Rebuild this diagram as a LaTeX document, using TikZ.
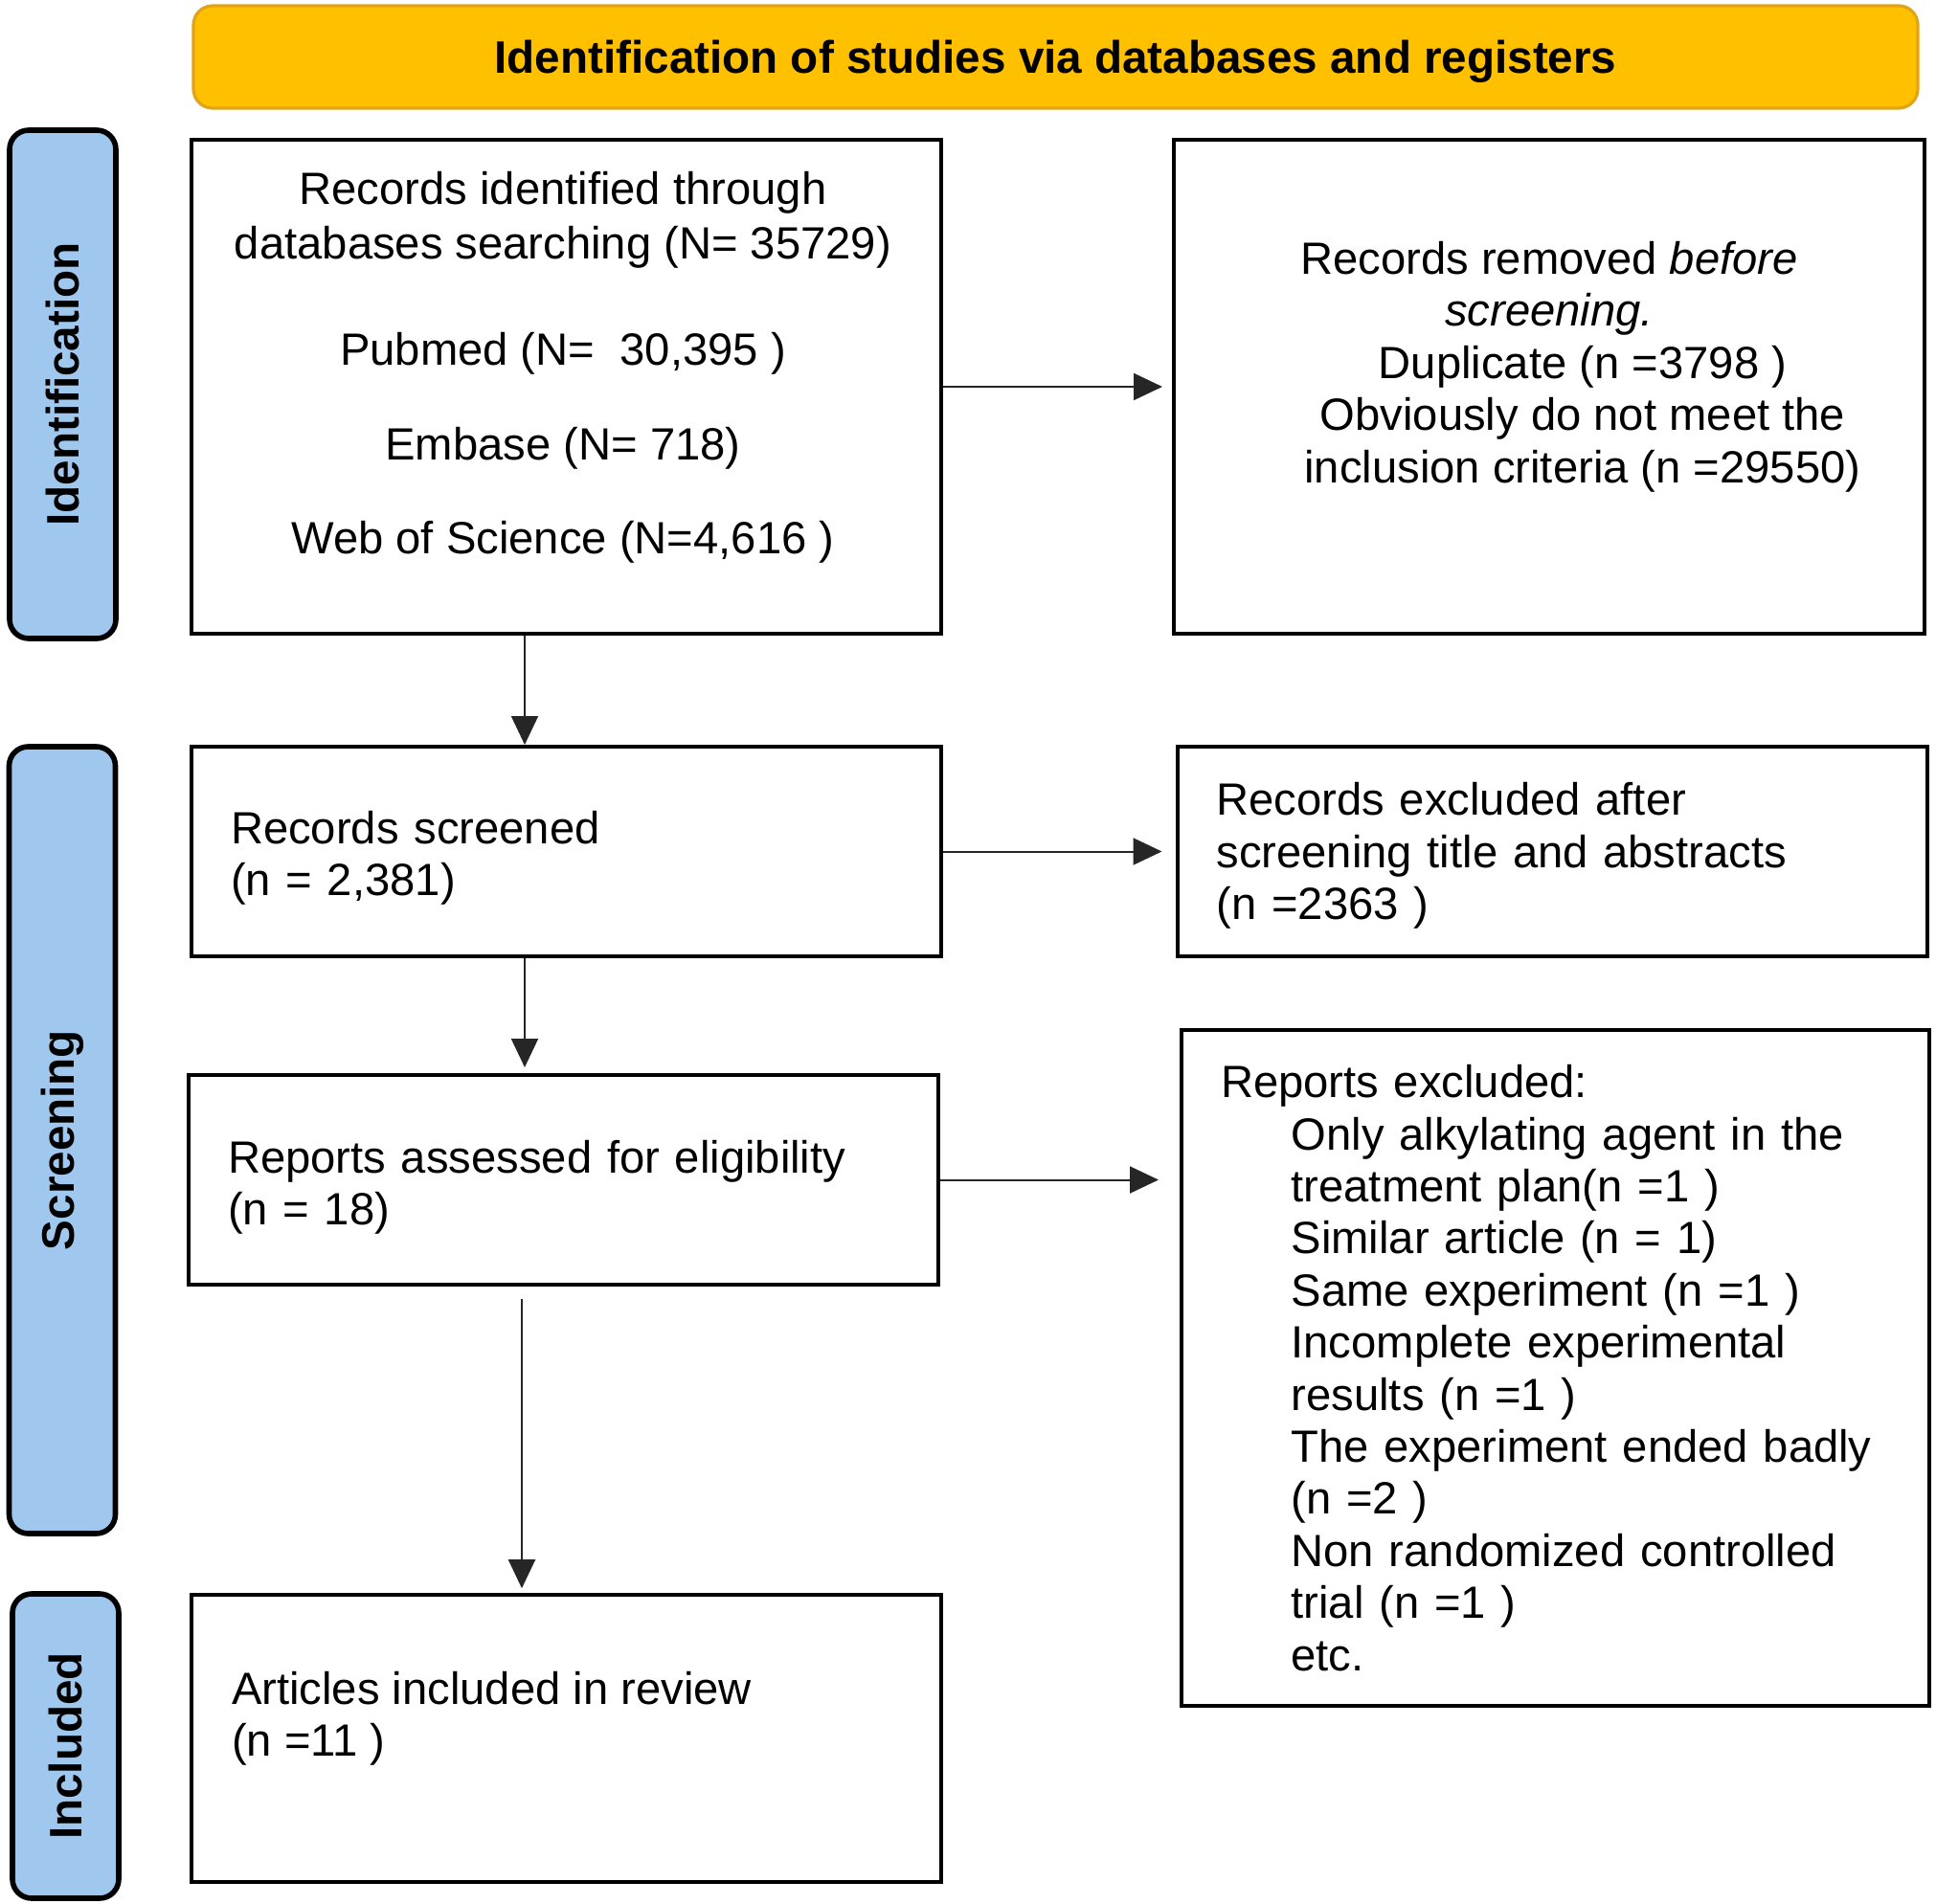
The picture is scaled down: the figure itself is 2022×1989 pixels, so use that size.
\documentclass[tikz,border=0pt]{standalone}
\usepackage{fontspec}
\setmainfont{Liberation Sans}
\usepackage{xcolor}
\usepackage{tikz}
\usetikzlibrary{arrows.meta}
\definecolor{bannergold}{RGB}{255,192,0}
\definecolor{bannerrim}{RGB}{226,164,22}
\definecolor{phaseblue}{RGB}{160,200,238}
\newcommand{\exind}{\hspace*{18.4pt}}
\newcommand{\padtop}[1]{\rule{0pt}{\dimexpr8.7pt+#1\relax}}
\tikzset{every picture/.style={line width=.55pt}}

\begin{document}
\begin{tikzpicture}[x=.25pt,y=-.25pt,>=Latex,
  every node/.style={font=\fontsize{11.8}{13.6}\selectfont,inner sep=0pt},
  banner/.style={draw=bannerrim,fill=bannergold,line width=.8pt,rounded corners=5pt,
                 minimum width=450.25pt,minimum height=26.75pt,text depth=0pt,
                 font=\fontsize{11.9}{13.6}\selectfont\bfseries},
  phase/.style={draw=black,fill=phaseblue,line width=1.4pt,rounded corners=5pt,
                rotate=90,minimum height=27.75pt,
                font=\fontsize{11.9}{13.6}\selectfont\bfseries},
  panel/.style={draw=black,line width=1pt,minimum width=195.75pt},
  lpanel/.style={panel,align=left,inner xsep=10.25pt,text width=175.25pt},
  flow/.style={-{Triangle[length=7.5pt,width=7pt]},black!85,line width=.5pt}]

  \useasboundingbox (0,0) rectangle (2022,1989);

  % Banner and phase bars.
  \node[banner] (title) at (1102.5,59.5)
    {Identification of studies via databases and registers};
  \node[phase,minimum width=132.75pt] (idbar) at (65.5,401.5) {Identification};
  \node[phase,minimum width=205.5pt] (scbar) at (65,1191) {Screening};
  \node[phase,minimum width=79.5pt] (inbar) at (68.5,1824) {Included};

  % Left column.
  \node[panel,minimum height=129pt] (found) at (591.5,404) {};
  \node[align=center] (foundtxt) at (588,384)
    {Records identified through\\[.6pt]
     databases searching (N= 35729)\\[14.1pt]
     Pubmed (N=~~30,395~)\\[11.1pt]
     Embase (N= 718)\\[11.1pt]
     Web of Science (N=4,616~)};
  \node[lpanel,minimum height=54.75pt] (screened) at (591.5,889.5)
    {\padtop{3.2pt}Records screened\\(n = 2,381)};
  \node[lpanel,minimum height=54.75pt] (assessed) at (588.5,1232.5)
    {\padtop{3.8pt}Reports assessed for eligibility\\(n = 18)};
  \node[panel,minimum height=75pt] (included) at (591.5,1816) {};
  \node[align=left,anchor=west] (includedtxt) at (241,1795)
    {Articles included in review\\(n =11~)};

  % Right column.
  \node[panel,minimum width=196pt,minimum height=129pt] (removed) at (1618,404) {};
  \node[align=center] (removedtxt) at (1618,383)
    {Records removed \textit{before}\\
     \textit{screening.}\hspace*{19pt}\\
     \hspace*{17.5pt}Duplicate (n =3798~)\\
     \hspace*{17.5pt}Obviously do not meet the\\
     \hspace*{17.5pt}inclusion criteria (n =29550)};
  \node[lpanel,minimum width=195.5pt,minimum height=54.75pt] (excl) at (1621,889.5)
    {\padtop{2pt}Records excluded after\\screening title and abstracts\\(n =2363~)};
  \node[lpanel,minimum width=195.25pt,text width=174.75pt,minimum height=176.5pt]
    (repexcl) at (1624.5,1429)
    {Reports excluded:\\
     \exind Only alkylating agent in the\\
     \exind treatment plan(n =1~)\\
     \exind Similar article (n = 1)\\
     \exind Same experiment (n =1~)\\
     \exind Incomplete experimental\\
     \exind results (n =1~)\\
     \exind The experiment ended badly\\
     \exind (n =2~)\\
     \exind Non randomized controlled\\
     \exind trial (n =1~)\\
     \exind etc.};

  % Connectors.
  \coordinate (spine) at (548,0);
  \coordinate (spinelow) at (545,0);
  \draw[flow] (found.south -| spine) -- (screened.north -| spine);
  \draw[flow,shorten >=1.5pt] (screened.south -| spine) -- (assessed.north -| spine);
  \draw[flow,shorten <=3.3pt,shorten >=1.2pt]
    (assessed.south -| spinelow) -- (included.north -| spinelow);
  \draw[flow,shorten >=2.5pt] (found.east) -- (removed.west |- found.east);
  \draw[flow,shorten >=3.5pt] (screened.east) -- (excl.west |- screened.east);
  \draw[flow,shorten >=5.5pt] (assessed.east) -- (repexcl.west |- assessed.east);
\end{tikzpicture}
\end{document}
